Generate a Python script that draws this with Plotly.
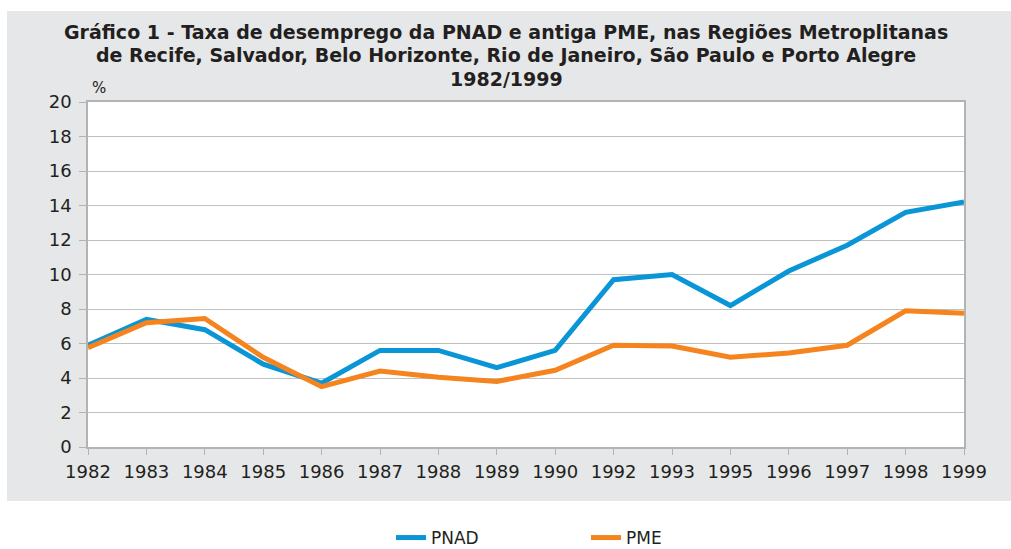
import plotly.graph_objects as go

years = ["1982", "1983", "1984", "1985", "1986", "1987", "1988", "1989", "1990",
         "1992", "1993", "1995", "1996", "1997", "1998", "1999"]
pnad = [5.9, 7.4, 6.8, 4.8, 3.7, 5.6, 5.6, 4.6, 5.6, 9.7, 10.0, 8.2, 10.2, 11.7, 13.6, 14.2]
pme = [5.75, 7.2, 7.45, 5.2, 3.5, 4.4, 4.05, 3.8, 4.45, 5.9, 5.85, 5.2, 5.45, 5.9, 7.9, 7.75]
break_year = "1992"
y_ticks = list(range(0, 21, 2))

title_lines = ["Gráfico 1 - Taxa de desemprego da PNAD e antiga PME, nas Regiões Metroplitanas",
               "de Recife, Salvador, Belo Horizonte, Rio de Janeiro, São Paulo e Porto Alegre",
               "1982/1999"]

W, H = 1011, 549
L, R, T, B = 88, 964, 102, 447
pw, ph = R - L, B - T

def px(x):
    return (x - L) / pw

def py(y):
    return (B - y) / ph

fig = go.Figure()
fig.add_trace(go.Scatter(x=years, y=pnad, mode="lines", name="PNAD",
                         line=dict(color="#0a96d6", width=5)))
fig.add_trace(go.Scatter(x=years, y=pme, mode="lines", name="PME",
                         line=dict(color="#f5841f", width=5)))

# gray panel + white plot area
fig.add_shape(type="rect", xref="paper", yref="paper", x0=px(7), x1=px(1011), y0=py(501), y1=py(11),
              fillcolor="#e6e7e8", line=dict(width=0), layer="below")
fig.add_shape(type="rect", xref="paper", yref="paper", x0=0, x1=1, y0=0, y1=1,
              fillcolor="white", line=dict(width=0), layer="below")
# dotted break line
fig.add_shape(type="line", xref="x", yref="y", x0=break_year, x1=break_year, y0=0, y1=20,
              line=dict(color="#c4c4c4", width=1.2, dash="dot"), layer="below")

for line_text, yc in zip(title_lines, [32, 55.5, 79]):
    fig.add_annotation(text=line_text, xref="paper", yref="paper", x=px(506), y=py(yc),
                       xanchor="center", yanchor="middle", showarrow=False, align="center",
                       font=dict(family="DejaVu Sans, sans-serif", size=19,
                                 color="#231f20", weight="bold"))
fig.add_annotation(text="%", xref="paper", yref="paper", x=px(90), y=py(88),
                   xanchor="left", yanchor="middle", showarrow=False,
                   font=dict(family="DejaVu Sans", size=15, color="#231f20"))

fig.update_layout(
    width=W, height=H,
    margin=dict(l=L, r=W - R, t=T, b=H - B, pad=0, autoexpand=False),
    paper_bgcolor="white", plot_bgcolor="rgba(0,0,0,0)",
    showlegend=True,
    legend=dict(orientation="h", x=0.5 + 60 / pw, xanchor="center", y=py(538), yanchor="middle",
                font=dict(family="DejaVu Sans", size=17, color="#231f20"),
                entrywidth=150, bgcolor="rgba(0,0,0,0)"),
    xaxis=dict(type="category", range=[0, len(years) - 1], showgrid=False,
               showline=True, linecolor="#b3b3b3", linewidth=1.5, mirror=True,
               ticks="outside", ticklen=6, tickcolor="#b3b3b3", tickwidth=1, ticklabelstandoff=2,
               tickfont=dict(family="DejaVu Sans", size=18, color="#231f20"), fixedrange=True),
    yaxis=dict(range=[0, 20], tickvals=y_ticks, showgrid=True, gridcolor="#c0c0c0", gridwidth=1.3,
               showline=True, linecolor="#b3b3b3", linewidth=1.5, mirror=True, zeroline=False,
               ticks="outside", ticklen=7, tickcolor="#b3b3b3", tickwidth=1, ticklabelstandoff=4,
               tickfont=dict(family="DejaVu Sans", size=18, color="#231f20"), fixedrange=True),
)

fig.write_html("out.html", config={"displayModeBar": False},
               post_script="document.body.style.margin='0px';")
